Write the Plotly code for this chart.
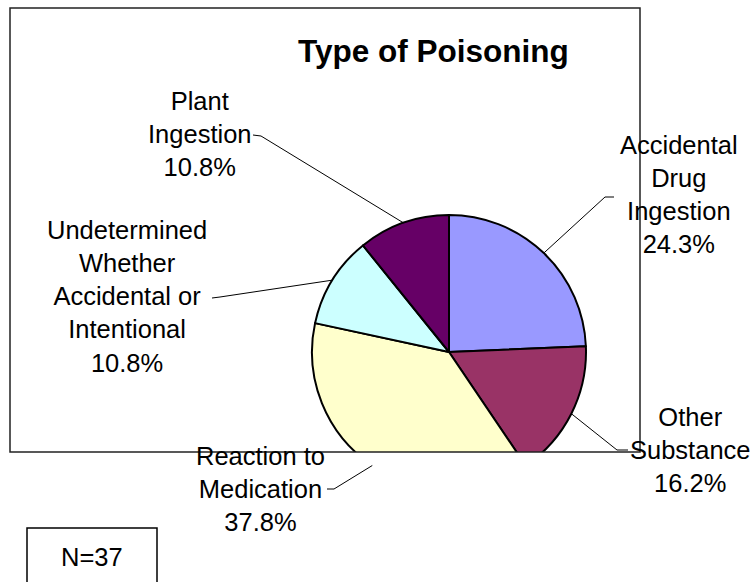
import math
import plotly.graph_objects as go

# ---- data ----
categories = [
    "Accidental Drug Ingestion",
    "Other Substance",
    "Reaction to Medication",
    "Undetermined Whether Accidental or Intentional",
    "Plant Ingestion",
]
counts = [9, 6, 14, 4, 4]
label_lines = [
    ["Accidental", "Drug", "Ingestion"],
    ["Other", "Substance"],
    ["Reaction to", "Medication"],
    ["Undetermined", "Whether", "Accidental or", "Intentional"],
    ["Plant", "Ingestion"],
]
slice_colors = ["#9999FF", "#993366", "#FFFFCC", "#CCFFFF", "#660066"]
chart_title = "Type of Poisoning"

# ---- layout geometry (pixels) ----
W, H = 754, 582
CX, CY, R = 449, 352, 137
FRAME = (10, 8, 640, 452)
FONT = "Liberation Sans, Arial, sans-serif"
LABEL_SIZE = 25.5

def px(x):
    return x / W

def py(y):
    return 1 - y / H

# label centre positions and leader-line elbow points (label side)
label_pos = [(679, 195), (690, 450), (260, 489), (127, 296), (200, 134)]
leader_pts = [
    [(614, 197), (605, 197)],
    [(628, 450), (617, 450)],
    [(327, 489), (334, 489)],
    [(212, 298), (220, 297)],
    [(253, 135), (261, 136)],
]

total = sum(counts)
fig = go.Figure()
fig.add_trace(go.Pie(
    labels=categories,
    values=counts,
    sort=False,
    direction="clockwise",
    rotation=0,
    textinfo="none",
    hoverinfo="label+percent",
    marker=dict(colors=slice_colors, line=dict(color="black", width=2)),
    domain=dict(x=[px(CX - R), px(CX + R)], y=[py(CY + R), py(CY - R)]),
    showlegend=False,
))

shapes = []
# white mask clipping the pie at the bottom of the plot-area frame
shapes.append(dict(type="rect", xref="paper", yref="paper", layer="above",
                   x0=px(CX - R - 5), x1=px(CX + R + 5), y0=py(CY + R + 6), y1=py(FRAME[3]),
                   fillcolor="white", line=dict(width=0)))
# plot-area frame
shapes.append(dict(type="rect", xref="paper", yref="paper", layer="above",
                   x0=px(FRAME[0]), x1=px(FRAME[2]), y0=py(FRAME[3]), y1=py(FRAME[1]),
                   line=dict(color="#222222", width=1.5)))

annotations = []
cum = 0
for i, c in enumerate(counts):
    frac = c / total
    mid = (cum + frac / 2) * 2 * math.pi
    cum += frac
    ex = CX + R * math.sin(mid)
    ey = CY - R * math.cos(mid)
    pts = leader_pts[i] + [(ex, ey)]
    path = "M " + " L ".join(f"{px(x)},{py(y)}" for x, y in pts)
    shapes.append(dict(type="path", xref="paper", yref="paper", layer="above",
                       path=path, line=dict(color="black", width=1)))
    text = "<br>".join(label_lines[i] + [f"{frac * 100:.1f}%"])
    lx, ly = label_pos[i]
    annotations.append(dict(x=px(lx), y=py(ly), xref="paper", yref="paper",
                            xanchor="center", yanchor="middle", align="center",
                            text=text, showarrow=False,
                            font=dict(family=FONT, size=LABEL_SIZE, color="black")))

# N box
shapes.append(dict(type="rect", xref="paper", yref="paper", layer="above",
                   x0=px(27), x1=px(157), y0=py(600), y1=py(528),
                   fillcolor="white", line=dict(color="black", width=1.5)))
annotations.append(dict(x=px(92), y=py(557), xref="paper", yref="paper",
                        xanchor="center", yanchor="middle", text=f"N={total}",
                        showarrow=False,
                        font=dict(family=FONT, size=LABEL_SIZE, color="black")))
# title
annotations.append(dict(x=px(433), y=py(51), xref="paper", yref="paper",
                        xanchor="center", yanchor="middle", text=f"<b>{chart_title}</b>",
                        showarrow=False,
                        font=dict(family=FONT, size=31.5, color="black")))

fig.update_layout(
    width=W, height=H, autosize=False,
    margin=dict(l=0, r=0, t=0, b=0),
    paper_bgcolor="white", plot_bgcolor="white",
    shapes=shapes, annotations=annotations,
    showlegend=False,
)
fig.write_html("out.html",
               config={"displayModeBar": False},
               post_script="document.body.style.margin='0';document.body.style.overflow='hidden';")
